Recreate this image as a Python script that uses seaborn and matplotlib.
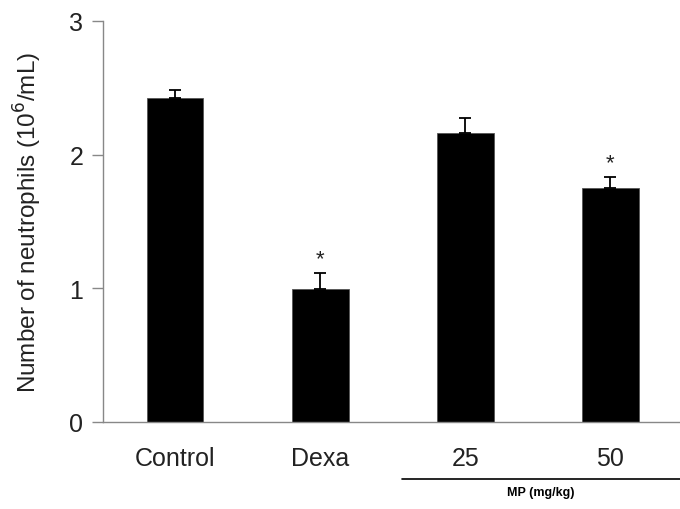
import numpy as np
import pandas as pd
import seaborn as sns
import matplotlib.pyplot as plt
from matplotlib.lines import Line2D

# values
groups = ["Control", "Dexa", "25", "50"]
means = [2.42, 0.995, 2.16, 1.75]
sems = [0.06, 0.115, 0.11, 0.08]
significant = [False, True, False, True]

df = pd.DataFrame({"Group": groups, "Neutrophils": means})

sns.set_style("white")
plt.rcParams['font.family'] = ['Liberation Sans', 'DejaVu Sans']

fig = plt.figure(figsize=(6.8, 5.1), dpi=100)
ax = fig.add_axes([0.151, 0.171, 0.849, 0.786])

sns.barplot(data=df, x="Group", y="Neutrophils", color="black", width=0.39,
            saturation=1, edgecolor="#555555", linewidth=0.6, ax=ax)

# one-sided error bars (upper only)
ax.errorbar(np.arange(len(groups)), means, yerr=[np.zeros(len(sems)), sems],
            fmt="none", ecolor="black", elinewidth=1.3, capsize=4, capthick=1.3)

# significance stars
for i, (m, s, sig) in enumerate(zip(means, sems, significant)):
    if sig:
        ax.text(i, m + s + 0.03, "*", ha="center", va="bottom", fontsize=16, color="#222222")

ax.set_ylim(0, 3)
ax.set_xlim(-0.5, 3.48)
ax.set_yticks([0, 1, 2, 3])
ax.set_xlabel("")
ax.set_ylabel("Number of neutrophils (10$^6$/mL)", fontsize=17.5, color="#222222", labelpad=18)

for side in ["top", "right"]:
    ax.spines[side].set_visible(False)
for side in ["left", "bottom"]:
    ax.spines[side].set_color("#888888")
    ax.spines[side].set_linewidth(1.0)

ax.tick_params(axis="y", which="major", left=True, length=8, width=1, color="#888888",
               labelsize=18, labelcolor="#222222", pad=6)
ax.tick_params(axis="x", bottom=False, labelsize=18, labelcolor="#222222", pad=14)

# MP dose bracket under the axis
fig.add_artist(Line2D([0.591, 1.0], [0.0588, 0.0588], transform=fig.transFigure,
                      color="black", linewidth=1.2))
fig.text(0.795, 0.033, "MP (mg/kg)", ha="center", va="center", fontsize=9,
         fontweight="bold", color="black")

fig.savefig("out.png", dpi=100)
